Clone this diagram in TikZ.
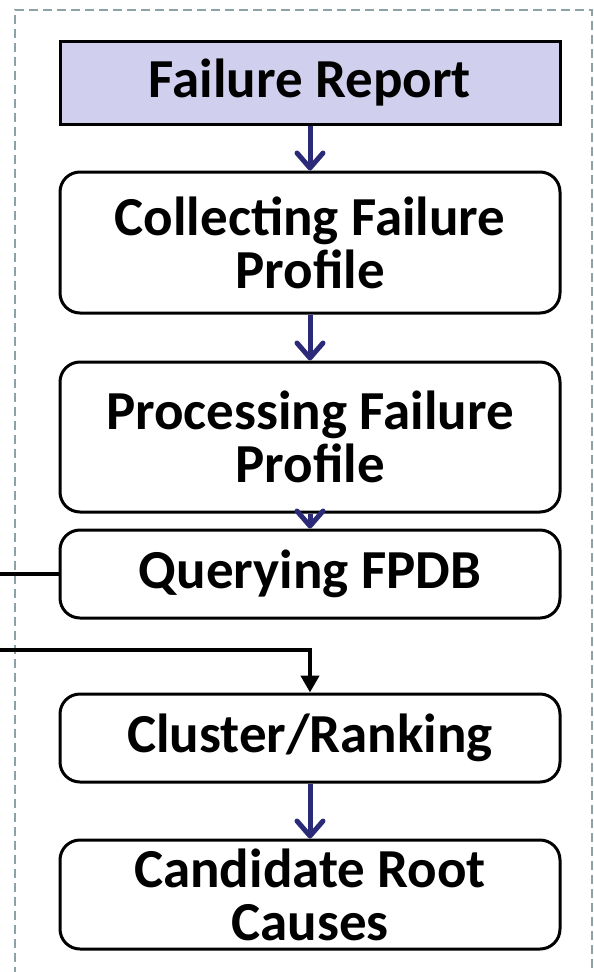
\documentclass[tikz,border=0pt]{standalone}
\usepackage{fontspec}
\setmainfont{Carlito}
\usetikzlibrary{arrows.meta}
\definecolor{lav}{RGB}{208,208,238}
\definecolor{navyarrow}{RGB}{42,42,120}
\definecolor{framegray}{RGB}{140,162,168}
\tikzset{
  stepbox/.style={draw=black, line width=3pt, rounded corners=20pt,
    minimum width=500pt, align=center, inner sep=0pt,
    font=\fontsize{55}{53}\selectfont\bfseries},
  headbox/.style={stepbox, rounded corners=0pt, fill=lav},
  flow/.style={draw=navyarrow, line width=5pt,
    -{Straight Barb[length=15pt,width=26pt,line width=5pt,round]}},
  feed/.style={draw=black, line width=4.5pt},
  feedarrow/.style={feed, -{Triangle[length=17pt,width=18pt]}}
}
\begin{document}
\begin{tikzpicture}[x=1pt,y=-1pt]
\useasboundingbox (0,0) rectangle (594,972);
% outer dashed frame, open at the bottom
\draw[framegray, line width=2.5pt, dash pattern=on 9pt off 5pt]
  (15,990) -- (15,10) -- (592,10) -- (592,990);

\node[headbox, minimum height=83pt]  (fr)    at (310,82.5) {Failure Report};
\node[stepbox, minimum height=141pt] (coll)  at (310,242.5) {Collecting Failure\\Profile};
\node[stepbox, minimum height=150pt] (proc)  at (310,437) {Processing Failure\\Profile};
\node[stepbox, minimum height=88pt]  (query) at (310,574) {Querying FPDB};
\node[stepbox, minimum height=88pt]  (clus)  at (310,738) {Cluster/Ranking};
\node[stepbox, minimum height=109pt] (cand)  at (310,894.5) {Candidate Root\\Causes};

\draw[flow] (fr.south)   -- (coll.north);
\draw[flow] (coll.south) -- (proc.north);
\draw[flow] (proc.south) -- (query.north);
\draw[flow] (clus.south) -- (cand.north);

\coordinate (out) at (0,574);
\coordinate (in)  at (0,650);
\draw[feed] (out) -- (query.west);
\draw[feedarrow] (in) -| (clus.north);
\end{tikzpicture}
\end{document}
